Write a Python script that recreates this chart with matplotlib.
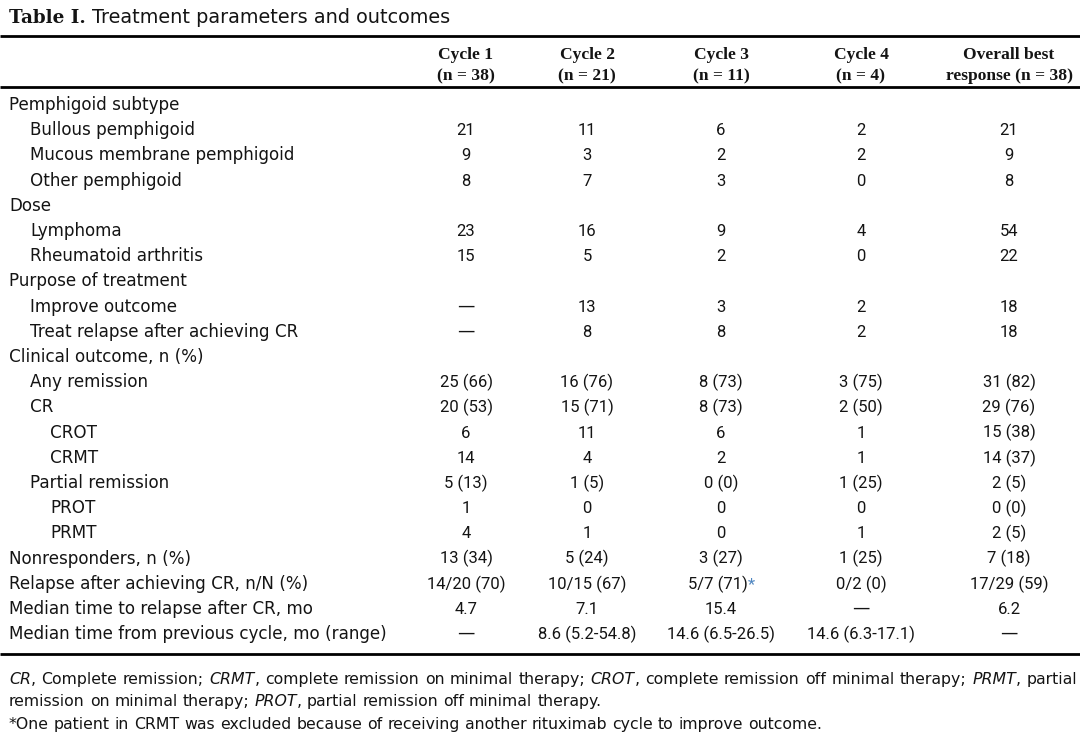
import matplotlib
matplotlib.use("Agg")
import matplotlib.pyplot as plt

# ---------------- data ----------------
title_bold = "Table I."
title_rest = "Treatment parameters and outcomes"

col_headers = [
    ("Cycle 1", "(n = 38)"),
    ("Cycle 2", "(n = 21)"),
    ("Cycle 3", "(n = 11)"),
    ("Cycle 4", "(n = 4)"),
    ("Overall best", "response (n = 38)"),
]

row_labels = [
    "Pemphigoid subtype", "Bullous pemphigoid", "Mucous membrane pemphigoid",
    "Other pemphigoid", "Dose", "Lymphoma", "Rheumatoid arthritis",
    "Purpose of treatment", "Improve outcome", "Treat relapse after achieving CR",
    "Clinical outcome, n (%)", "Any remission", "CR", "CROT", "CRMT",
    "Partial remission", "PROT", "PRMT", "Nonresponders, n (%)",
    "Relapse after achieving CR, n/N (%)", "Median time to relapse after CR, mo",
    "Median time from previous cycle, mo (range)",
]
row_levels = [0, 1, 1, 1, 0, 1, 1, 0, 1, 1, 0, 1, 1, 2, 2, 1, 2, 2, 0, 0, 0, 0]

cycle1 = ["", "21", "9", "8", "", "23", "15", "", "—", "—", "", "25 (66)", "20 (53)",
          "6", "14", "5 (13)", "1", "4", "13 (34)", "14/20 (70)", "4.7", "—"]
cycle2 = ["", "11", "3", "7", "", "16", "5", "", "13", "8", "", "16 (76)", "15 (71)",
          "11", "4", "1 (5)", "0", "1", "5 (24)", "10/15 (67)", "7.1", "8.6 (5.2-54.8)"]
cycle3 = ["", "6", "2", "3", "", "9", "2", "", "3", "8", "", "8 (73)", "8 (73)",
          "6", "2", "0 (0)", "0", "0", "3 (27)", "5/7 (71)*", "15.4", "14.6 (6.5-26.5)"]
cycle4 = ["", "2", "2", "0", "", "4", "0", "", "2", "2", "", "3 (75)", "2 (50)",
          "1", "1", "1 (25)", "0", "1", "1 (25)", "0/2 (0)", "—", "14.6 (6.3-17.1)"]
overall = ["", "21", "9", "8", "", "54", "22", "", "18", "18", "", "31 (82)", "29 (76)",
           "15 (38)", "14 (37)", "2 (5)", "0 (0)", "2 (5)", "7 (18)", "17/29 (59)", "6.2", "—"]
columns = [cycle1, cycle2, cycle3, cycle4, overall]

# footnote lines: (text, italic) pieces
foot1 = [("CR", True), (", Complete remission; ", False), ("CRMT", True),
         (", complete remission on minimal therapy; ", False), ("CROT", True),
         (", complete remission off minimal therapy; ", False), ("PRMT", True),
         (", partial", False)]
foot2 = [("remission on minimal therapy; ", False), ("PROT", True),
         (", partial remission off minimal therapy.", False)]
foot3 = [("*One patient in CRMT was excluded because of receiving another rituximab cycle to improve outcome.", False)]

# ---------------- style ----------------
W, H = 1080, 738
TXT = "#141414"
STAR = "#4f86c0"
LABEL_FONT = "DejaVu Sans"
VALUE_FONT = "Roboto"
HEAD_FONT = "Liberation Serif"
col_x = [466, 587, 721, 861, 1009]
level_x = [9, 30, 50]
row_y0, row_dy = 104, 25.2
base_off = 6

fig = plt.figure(figsize=(W / 100, H / 100), dpi=100)
ax = fig.add_axes([0, 0, 1, 1])
ax.set_xlim(0, W)
ax.set_ylim(H, 0)
ax.axis("off")
renderer = fig.canvas.get_renderer()


def width_of(t):
    return t.get_window_extent(renderer).width


# title
t1 = ax.text(9, 23, title_bold, fontfamily="DejaVu Serif", fontweight="bold",
             fontsize=13.2, color=TXT, va="baseline", ha="left")
wt = width_of(t1)
ax.text(9 + wt + 6, 23, title_rest, fontfamily=LABEL_FONT, fontsize=13.9,
        color=TXT, va="baseline", ha="left")

# rules
for y, lw in [(36, 2.0), (87, 2.0), (654, 2.0)]:
    ax.plot([0, W], [y, y], color="black", lw=lw, solid_capstyle="butt")

# headers
for (h1, h2), x in zip(col_headers, col_x):
    ax.text(x, 59, h1, fontfamily=HEAD_FONT, fontweight="bold", fontsize=12.6,
            color=TXT, ha="center", va="baseline")
    ax.text(x, 80, h2, fontfamily=HEAD_FONT, fontweight="bold", fontsize=12.6,
            color=TXT, ha="center", va="baseline")

# body
for i, (lab, lev) in enumerate(zip(row_labels, row_levels)):
    yb = row_y0 + i * row_dy + base_off
    ax.text(level_x[lev], yb, lab, fontfamily=LABEL_FONT, fontsize=12.1,
            color=TXT, ha="left", va="baseline")
    for col, x in zip(columns, col_x):
        val = col[i]
        if not val:
            continue
        if val == "—":
            ax.text(x, yb - 1, val, fontfamily=LABEL_FONT, fontsize=12.5,
                    color=TXT, ha="center", va="baseline")
        elif val.endswith("*"):
            core = val[:-1]
            tc = ax.text(x, yb, core, fontfamily=VALUE_FONT, fontsize=12,
                         color=TXT, ha="left", va="baseline")
            ts = ax.text(x, yb, "*", fontfamily=VALUE_FONT, fontsize=12,
                         color=STAR, ha="left", va="baseline")
            wc, ws = width_of(tc), width_of(ts)
            left = x - (wc + ws) / 2
            tc.set_x(left)
            ts.set_x(left + wc)
        else:
            ax.text(x, yb, val, fontfamily=VALUE_FONT, fontsize=12,
                    color=TXT, ha="center", va="baseline")


# footnotes with word placement
def words_from(pieces):
    words, cur = [], []
    for txt, it in pieces:
        parts = txt.split(" ")
        for k, p in enumerate(parts):
            if k > 0:
                if cur:
                    words.append(cur)
                cur = []
            if p:
                cur.append((p, it))
    if cur:
        words.append(cur)
    return words


def space_width(size):
    ta = ax.text(100, 300, "x x", fontfamily=LABEL_FONT, fontsize=size)
    tb = ax.text(100, 300, "xx", fontfamily=LABEL_FONT, fontsize=size)
    s = width_of(ta) - width_of(tb)
    ta.remove()
    tb.remove()
    return s


def place_line(pieces, x0, yb, size, right=None):
    words = words_from(pieces)
    arts = []
    for w in words:
        ws = []
        for p, it in w:
            t = ax.text(x0, yb, p, fontfamily=LABEL_FONT, fontsize=size, color=TXT,
                        style="italic" if it else "normal", ha="left", va="baseline")
            ws.append((t, width_of(t)))
        arts.append(ws)
    space = space_width(size)
    total = sum(sum(w for _, w in ws) for ws in arts)
    if right is not None and len(arts) > 1:
        space = (right - x0 - total) / (len(arts) - 1)
    x = x0
    for ws in arts:
        for t, w in ws:
            t.set_x(x)
            x += w
        x += space


FS = 11.3
place_line(foot1, 9, 684, FS, right=1077)
place_line(foot2, 9, 706, FS)
place_line(foot3, 9, 729, FS)

fig.savefig("out.png", dpi=100)
